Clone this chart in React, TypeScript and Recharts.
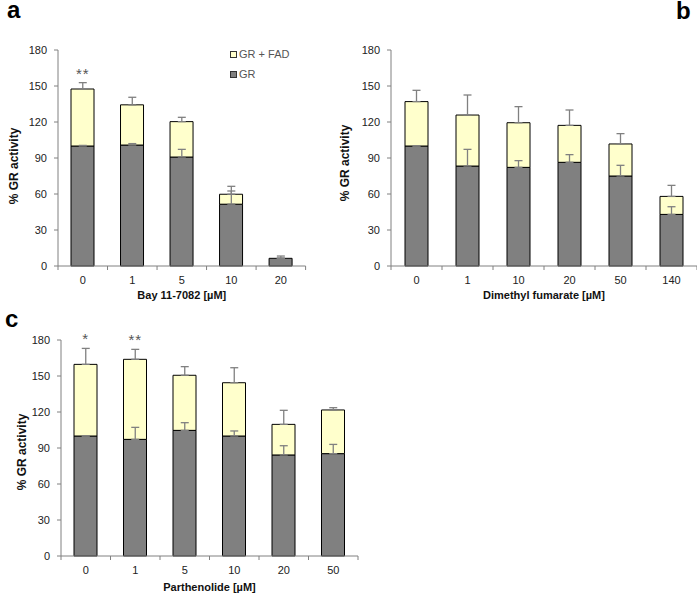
import React from "react";
import { ComposedChart, Bar, Line, XAxis, YAxis, ErrorBar, LabelList, Label, Legend } from "recharts";

const FONT = "'Liberation Sans', Arial, Helvetica, sans-serif";
const GR_FILL = "#808080";
const FAD_FILL = "#ffffcc";
const AXIS = "#808080";
const ERR = "#808080";

const yTicks = [0, 30, 60, 90, 120, 150, 180];

// a — Bay 11-7082
const bayDoses = ["0", "1", "5", "10", "20"];
const bayGR = [100, 100.8, 90.8, 51.5, 6.4];
const bayTotal = [147.5, 134.3, 120.3, 59.8, 6.4];
const bayGRErr = [0.5, 1.2, 6.4, 11, 0];
const bayTotalErr = [5.3, 6.3, 3.6, 6.6, 1.9];
const baySig = ["**", "", "", "", ""];

// b — dimethyl fumarate
const dmfDoses = ["0", "1", "10", "20", "50", "140"];
const dmfGR = [100, 83.3, 82.2, 86.4, 75, 43];
const dmfTotal = [137, 125.8, 119.4, 117.2, 101.7, 58];
const dmfGRErr = [0, 13.9, 5.6, 6.4, 8.9, 6.4];
const dmfTotalErr = [9.4, 16.7, 13.4, 12.8, 8.6, 9.2];
const dmfSig = ["", "", "", "", "", ""];

// c — parthenolide
const parDoses = ["0", "1", "5", "10", "20", "50"];
const parGR = [100, 97.2, 104.7, 100, 84.2, 85.3];
const parTotal = [159.7, 163.9, 150.6, 144.4, 109.7, 121.7];
const parGRErr = [0, 10, 6.4, 4.2, 7.7, 7.7];
const parTotalErr = [13.3, 8.3, 7.2, 12.5, 11.7, 1.9];
const parSig = ["*", "**", "", "", "", ""];

const LEGEND_NAMES = ["GR + FAD", "GR"];

function buildRows(doses: string[], gr: number[], total: number[], grErr: number[], totalErr: number[], sig: string[]) {
  return doses.map((d, i) => ({
    dose: d,
    gr: gr[i],
    fad: Math.max(0, total[i] - gr[i]),
    total: total[i],
    grErr: [0, grErr[i]],
    totalErr: [0, totalErr[i]],
    errTop: total[i] + totalErr[i],
    sig: sig[i],
  }));
}

/* eslint-disable @typescript-eslint/no-explicit-any */
function XTick(props: any) {
  const { x, y, payload, index, n, bw } = props;
  return (
    <g>
      <line x1={x - bw / 2} y1={y} x2={x - bw / 2} y2={y + 4} stroke={AXIS} />
      {index === n - 1 && <line x1={x + bw / 2} y1={y} x2={x + bw / 2} y2={y + 4} stroke={AXIS} />}
      <text x={x} y={y + 18} textAnchor="middle" fontSize={11} fill="#222" fontFamily={FONT}>
        {payload.value}
      </text>
    </g>
  );
}

function XTitle({ viewBox, text, dy }: any) {
  if (!viewBox) return null;
  return (
    <text x={viewBox.x + viewBox.width / 2} y={viewBox.y + dy} textAnchor="middle" fontSize={11} fontWeight="bold" fill="#111" fontFamily={FONT}>
      {text}
    </text>
  );
}

function YTitle({ viewBox, dx, shift }: any) {
  if (!viewBox) return null;
  const cx = viewBox.x + dx;
  const cy = viewBox.y + viewBox.height / 2 + shift;
  return (
    <text x={cx} y={cy} transform={`rotate(-90 ${cx} ${cy})`} textAnchor="middle" dominantBaseline="central" fontSize={12} fontWeight="bold" fill="#111" fontFamily={FONT}>
      % GR activity
    </text>
  );
}

function SigLabel({ x, y, value }: any) {
  if (!value) return null;
  return (
    <text x={x} y={y - 4} textAnchor="middle" fontSize={15} fill="#555" fontFamily={FONT} letterSpacing={1}>
      {value}
    </text>
  );
}

function LegendBox({ payload }: any) {
  const items = LEGEND_NAMES.map((name) => (payload ?? []).find((p: any) => p.value === name)).filter(Boolean);
  return (
    <div style={{ fontFamily: FONT, fontSize: 11, color: "#555", lineHeight: "20px" }}>
      {items.map((p: any) => (
        <div key={p.value} style={{ display: "flex", alignItems: "center" }}>
          <span style={{ width: 5, height: 5, border: "1px solid #333", background: p.color, marginRight: 2 }} />
          <span>{p.value}</span>
        </div>
      ))}
    </div>
  );
}
/* eslint-enable @typescript-eslint/no-explicit-any */

interface PanelProps {
  rows: ReturnType<typeof buildRows>;
  width: number;
  height: number;
  margin: { top: number; right: number; bottom: number; left: number };
  xTitle: string;
  xTitleDy: number;
  yTitleDx: number;
  yTitleShift: number;
  legend?: boolean;
}

const Y_W = 46;

function Panel({ rows, width, height, margin, xTitle, xTitleDy, yTitleDx, yTitleShift, legend }: PanelProps) {
  const n = rows.length;
  const bw = (width - margin.left - margin.right - Y_W) / n;
  return (
    <ComposedChart width={width} height={height} data={rows} margin={margin} barGap={0}>
      <XAxis
        dataKey="dose"
        height={30}
        tickSize={0}
        tickMargin={0}
        tickLine={false}
        axisLine={{ stroke: AXIS }}
        interval={0}
        tick={<XTick n={n} bw={bw} />}
      >
        <Label content={<XTitle text={xTitle} dy={xTitleDy} />} />
      </XAxis>
      <YAxis
        width={Y_W}
        domain={[0, 180]}
        ticks={yTicks}
        interval={0}
        tickSize={4}
        tickMargin={7}
        tickLine={{ stroke: AXIS }}
        axisLine={{ stroke: AXIS }}
        tick={{ fontSize: 11, fill: "#222", fontFamily: FONT }}
      >
        <Label content={<YTitle dx={yTitleDx} shift={yTitleShift} />} />
      </YAxis>
      <Line dataKey="total" stroke="none" dot={false} activeDot={false} legendType="none" isAnimationActive={false}>
        <ErrorBar dataKey="totalErr" direction="y" width={4} stroke={ERR} strokeWidth={1.3} />
      </Line>
      <Bar dataKey="gr" name="GR" stackId="s" fill={GR_FILL} stroke="#000" strokeWidth={1} barSize={23} isAnimationActive={false} />
      <Bar dataKey="fad" name="GR + FAD" stackId="s" fill={FAD_FILL} stroke="#000" strokeWidth={1} barSize={23} isAnimationActive={false} />
      <Line dataKey="gr" stroke="none" dot={false} activeDot={false} legendType="none" isAnimationActive={false}>
        <ErrorBar dataKey="grErr" direction="y" width={4} stroke={ERR} strokeWidth={1.3} />
      </Line>
      <Line dataKey="errTop" stroke="none" dot={false} activeDot={false} legendType="none" isAnimationActive={false}>
        <LabelList dataKey="sig" content={<SigLabel />} />
      </Line>
      {legend && (
        <Legend
          layout="vertical"
          align="center"
          verticalAlign="middle"
          wrapperStyle={{ left: 230, top: 44, width: "auto", height: "auto" }}
          content={<LegendBox />}
        />
      )}
    </ComposedChart>
  );
}

const bayRows = buildRows(bayDoses, bayGR, bayTotal, bayGRErr, bayTotalErr, baySig);
const dmfRows = buildRows(dmfDoses, dmfGR, dmfTotal, dmfGRErr, dmfTotalErr, dmfSig);
const parRows = buildRows(parDoses, parGR, parTotal, parGRErr, parTotalErr, parSig);

export default function App() {
  return (
    <div style={{ position: "absolute", left: 0, top: 0, width: 697, height: 615, background: "#fff", overflow: "hidden" }}>
      <div style={{ position: "absolute", left: 0, top: 0 }}>
        <Panel
          rows={bayRows}
          width={320}
          height={310}
          margin={{ top: 50, right: 14.4, bottom: 14, left: 12 }}
          xTitle="Bay 11-7082 [µM]"
          xTitleDy={33}
          yTitleDx={2}
          yTitleShift={8}
          legend
        />
      </div>
      <div style={{ position: "absolute", left: 328, top: 0 }}>
        <Panel
          rows={dmfRows}
          width={369}
          height={310}
          margin={{ top: 50, right: 0, bottom: 14, left: 17 }}
          xTitle="Dimethyl fumarate [µM]"
          xTitleDy={33}
          yTitleDx={0}
          yTitleShift={5}
        />
      </div>
      <div style={{ position: "absolute", left: 0, top: 300 }}>
        <Panel
          rows={parRows}
          width={370}
          height={315}
          margin={{ top: 40, right: 12, bottom: 29, left: 15 }}
          xTitle="Parthenolide [µM]"
          xTitleDy={35}
          yTitleDx={7}
          yTitleShift={4}
        />
      </div>
      <svg width={697} height={615} style={{ position: "absolute", left: 0, top: 0, pointerEvents: "none" }}>
        <text x={7} y={18} fontSize={24} fontWeight="bold" fontFamily={FONT} fill="#000">a</text>
        <text x={676} y={19} fontSize={24} fontWeight="bold" fontFamily={FONT} fill="#000">b</text>
        <text x={5} y={327} fontSize={24} fontWeight="bold" fontFamily={FONT} fill="#000">c</text>
      </svg>
    </div>
  );
}
